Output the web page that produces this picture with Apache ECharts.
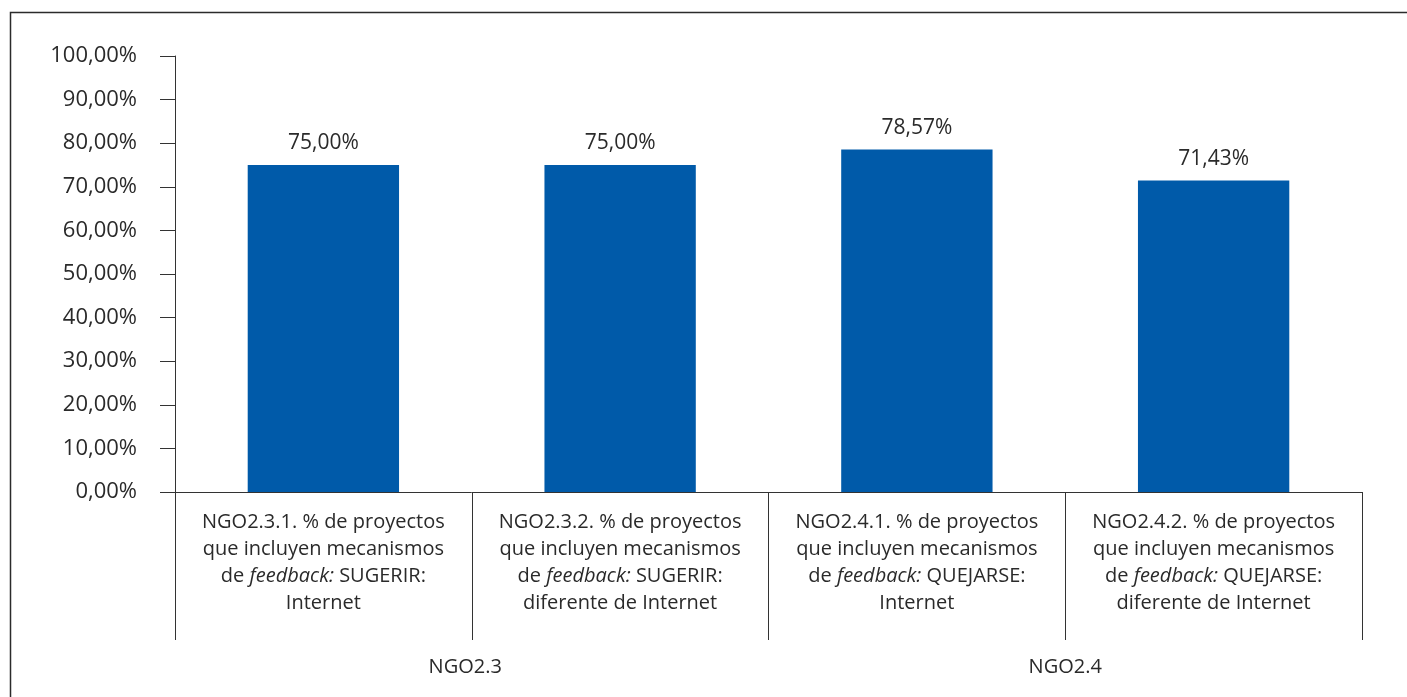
<!DOCTYPE html>
<html>
<head>
<meta charset="utf-8">
<script src="https://cdn.jsdelivr.net/npm/echarts@6/dist/echarts.min.js"></script>
<style>
html,body{margin:0;padding:0;background:#fff;}
#chart{width:1407px;height:697px;}
</style>
</head>
<body>
<div id="chart"></div>
<script>
var categories = [
  'NGO2.3.1. % de proyectos\nque incluyen mecanismos\nde {i|feedback:} SUGERIR:\nInternet',
  'NGO2.3.2. % de proyectos\nque incluyen mecanismos\nde {i|feedback:} SUGERIR:\ndiferente de Internet',
  'NGO2.4.1. % de proyectos\nque incluyen mecanismos\nde {i|feedback:} QUEJARSE:\nInternet',
  'NGO2.4.2. % de proyectos\nque incluyen mecanismos\nde {i|feedback:} QUEJARSE:\ndiferente de Internet'
];
var groups = ['NGO2.3', 'NGO2.4'];
var values = [75.00, 75.00, 78.57, 71.43];

var FONT = '"Open Sans", "Noto Sans", sans-serif';
var TXT = '#2a2a2a';
function pct(v) { return v.toFixed(2).replace('.', ',') + '%'; }

var chart = echarts.init(document.getElementById('chart'));
chart.setOption({
  backgroundColor: '#ffffff',
  animation: false,
  textStyle: { fontFamily: FONT, color: TXT },
  graphic: [{
    type: 'rect',
    shape: { x: 10.5, y: 12.5, width: 1600, height: 1000 },
    style: { fill: 'none', stroke: '#2b2b2b', lineWidth: 1.5 },
    silent: true
  }],
  grid: { left: 175, right: 45, top: 56, bottom: 205, containLabel: false },
  xAxis: [{
    type: 'category',
    data: categories,
    position: 'bottom',
    axisLine: { show: true, lineStyle: { color: '#333', width: 1 } },
    axisTick: { show: true, interval: 0, length: 148, alignWithLabel: false, lineStyle: { color: '#333', width: 1 } },
    axisLabel: {
      interval: 0, margin: 17, fontFamily: FONT, fontSize: 20, color: TXT,
      lineHeight: 27, align: 'center',
      rich: { i: { fontStyle: 'italic', fontFamily: FONT, fontSize: 20, color: TXT, lineHeight: 27 } }
    },
    splitLine: { show: false }
  }, {
    type: 'category',
    data: groups,
    position: 'bottom',
    gridIndex: 0,
    axisLine: { show: false },
    axisTick: { show: false },
    axisLabel: {
      interval: 0, margin: 165, fontFamily: FONT, fontSize: 20, color: TXT,
      formatter: function (v, i) { return i === 0 ? '{a|' + v + '}' : v; },
      rich: { a: { fontFamily: FONT, fontSize: 20, color: TXT, padding: [0, 13, 0, 0] } }
    },
    splitLine: { show: false }
  }],
  yAxis: {
    type: 'value',
    min: 0, max: 100, interval: 10,
    axisLine: { show: true, lineStyle: { color: '#333', width: 1 } },
    axisTick: { show: true, length: 15, lineStyle: { color: '#333', width: 1 } },
    axisLabel: { margin: 38, fontFamily: FONT, fontSize: 22, color: TXT, formatter: function (v) { return pct(v); } },
    splitLine: { show: false }
  },
  series: [{
    type: 'bar',
    xAxisIndex: 0,
    data: values,
    barWidth: '51%',
    itemStyle: { color: '#005AA9' },
    label: {
      show: true, position: 'top', distance: 11,
      fontFamily: FONT, fontSize: 21, color: TXT,
      formatter: function (p) { return pct(p.value); }
    }
  }]
});
</script>
</body>
</html>
